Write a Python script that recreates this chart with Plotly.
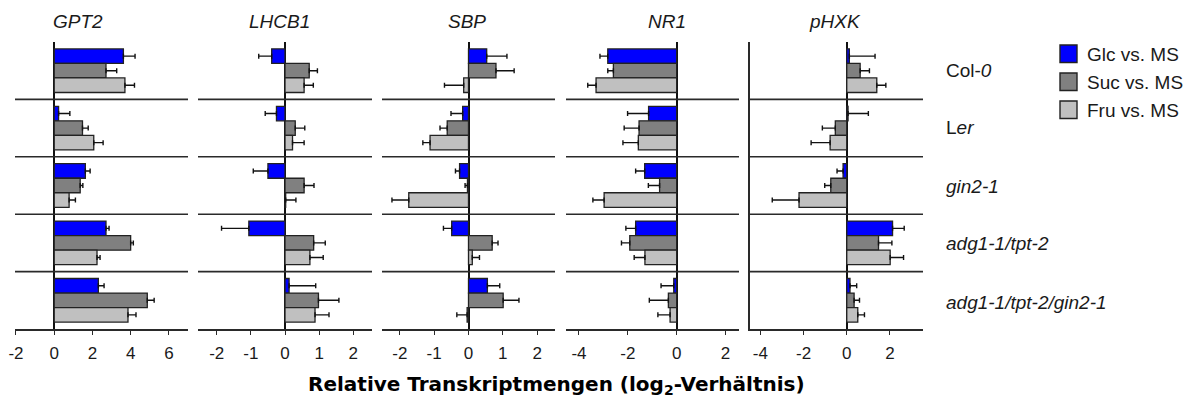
import plotly.graph_objects as go

# ---------------- data ----------------
genotypes = ["Col-0", "Ler", "gin2-1", "adg1-1/tpt-2", "adg1-1/tpt-2/gin2-1"]
genotype_labels = ["Col-<i>0</i>", "L<i>er</i>", "<i>gin2-1</i>", "<i>adg1-1/tpt-2</i>",
                   "<i>adg1-1/tpt-2/gin2-1</i>"]
genes = ["GPT2", "LHCB1", "SBP", "NR1", "pHXK"]
series_names = ["Glc vs. MS", "Suc vs. MS", "Fru vs. MS"]

GPT2_GLC = [3.62, 0.23, 1.63, 2.71, 2.31]
GPT2_SUC = [2.71, 1.48, 1.36, 4.00, 4.87]
GPT2_FRU = [3.70, 2.07, 0.78, 2.24, 3.86]
GPT2_GLC_ERR = [0.61, 0.59, 0.25, 0.16, 0.30]
GPT2_SUC_ERR = [0.56, 0.30, 0.14, 0.14, 0.36]
GPT2_FRU_ERR = [0.50, 0.49, 0.33, 0.16, 0.42]

LHCB1_GLC = [-0.39, -0.25, -0.50, -1.06, 0.12]
LHCB1_SUC = [0.71, 0.30, 0.56, 0.84, 0.98]
LHCB1_FRU = [0.56, 0.22, 0.02, 0.73, 0.88]
LHCB1_GLC_ERR = [0.38, 0.33, 0.43, 0.80, 0.78]
LHCB1_SUC_ERR = [0.24, 0.28, 0.29, 0.34, 0.60]
LHCB1_FRU_ERR = [0.27, 0.34, 0.30, 0.39, 0.41]

SBP_GLC = [0.53, -0.17, -0.26, -0.49, 0.55]
SBP_SUC = [0.80, -0.62, -0.03, 0.69, 1.01]
SBP_FRU = [-0.14, -1.12, -1.74, 0.11, -0.04]
SBP_GLC_ERR = [0.59, 0.34, 0.12, 0.24, 0.36]
SBP_SUC_ERR = [0.53, 0.21, 0.07, 0.17, 0.46]
SBP_FRU_ERR = [0.56, 0.21, 0.49, 0.21, 0.30]

NR1_GLC = [-2.82, -1.15, -1.31, -1.68, -0.12]
NR1_SUC = [-2.59, -1.54, -0.70, -1.92, -0.34]
NR1_FRU = [-3.30, -1.57, -2.97, -1.30, -0.27]
NR1_GLC_ERR = [0.32, 0.86, 0.37, 0.40, 0.52]
NR1_SUC_ERR = [0.23, 0.61, 0.46, 0.34, 0.78]
NR1_FRU_ERR = [0.34, 0.63, 0.46, 0.44, 0.50]

PHXK_GLC = [0.12, 0.06, -0.17, 2.12, 0.15]
PHXK_SUC = [0.62, -0.53, -0.74, 1.47, 0.34]
PHXK_FRU = [1.39, -0.77, -2.21, 2.01, 0.51]
PHXK_GLC_ERR = [1.19, 0.94, 0.28, 0.54, 0.31]
PHXK_SUC_ERR = [0.43, 0.60, 0.28, 0.62, 0.25]
PHXK_FRU_ERR = [0.42, 0.88, 1.24, 0.62, 0.31]

x_ranges = [[-2.05, 7.0], [-2.55, 2.55], [-2.52, 2.52], [-4.53, 2.55], [-4.48, 3.53]]
x_ticks = [[-2, 0, 2, 4, 6], [-2, -1, 0, 1, 2], [-2, -1, 0, 1, 2], [-4, -2, 0, 2], [-4, -2, 0, 2]]

values = [
    [GPT2_GLC, GPT2_SUC, GPT2_FRU],
    [LHCB1_GLC, LHCB1_SUC, LHCB1_FRU],
    [SBP_GLC, SBP_SUC, SBP_FRU],
    [NR1_GLC, NR1_SUC, NR1_FRU],
    [PHXK_GLC, PHXK_SUC, PHXK_FRU],
]
errors = [
    [GPT2_GLC_ERR, GPT2_SUC_ERR, GPT2_FRU_ERR],
    [LHCB1_GLC_ERR, LHCB1_SUC_ERR, LHCB1_FRU_ERR],
    [SBP_GLC_ERR, SBP_SUC_ERR, SBP_FRU_ERR],
    [NR1_GLC_ERR, NR1_SUC_ERR, NR1_FRU_ERR],
    [PHXK_GLC_ERR, PHXK_SUC_ERR, PHXK_FRU_ERR],
]

# ---------------- style ----------------
W, H = 1196, 401
TOP, BOTTOM = 42, 329
colors = ["#0000FE", "#808080", "#C0C0C0"]
FONT = "Liberation Sans, Arial, sans-serif"
TXT = "#1a1a1a"
LINE = "#2a2a2a"
panel_px = [(15, 188), (198, 372), (382, 555), (566, 739), (750, 923)]
title_px = [78, 279, 467, 667, 835]


def px_x(p):
    return p / W


def px_y(p):
    return (BOTTOM - p) / (BOTTOM - TOP)


fig = go.Figure()
for gi, gene in enumerate(genes):
    xa = "x" if gi == 0 else f"x{gi + 1}"
    ya = "y" if gi == 0 else f"y{gi + 1}"
    for si in range(3):
        vals = values[gi][si]
        errs = errors[gi][si]
        plus = [e if v >= 0 else 0 for v, e in zip(vals, errs)]
        minus = [e if v < 0 else 0 for v, e in zip(vals, errs)]
        fig.add_trace(go.Bar(
            x=vals, y=genotypes, orientation="h", name=series_names[si],
            xaxis=xa, yaxis=ya, showlegend=False,
            marker=dict(color=colors[si], line=dict(color="#222222", width=1.3)),
            error_x=dict(type="data", symmetric=False, array=plus, arrayminus=minus,
                         color="#111111", thickness=1.4, width=2.5),
        ))

layout = dict(
    width=W, height=H, margin=dict(l=0, r=0, t=TOP, b=H - BOTTOM),
    paper_bgcolor="white", plot_bgcolor="white",
    barmode="group", bargap=0.24, bargroupgap=0,
    font=dict(family=FONT, color=TXT),
)
for gi in range(5):
    sx = "" if gi == 0 else str(gi + 1)
    x0, x1 = panel_px[gi]
    layout[f"xaxis{sx}"] = dict(
        domain=[px_x(x0), px_x(x1)], range=x_ranges[gi], tickvals=x_ticks[gi],
        ticktext=[str(t) for t in x_ticks[gi]],
        showgrid=False, zeroline=True, zerolinecolor="#111111", zerolinewidth=1.6,
        showline=True, linecolor=LINE, linewidth=1.6,
        ticks="outside", ticklen=4, tickwidth=1.3, tickcolor=LINE,
        tickfont=dict(size=17, family=FONT, color=TXT), ticklabelstandoff=4,
        anchor="y" if gi == 0 else f"y{gi + 1}", fixedrange=True, automargin=False,
    )
    layout[f"yaxis{sx}"] = dict(
        domain=[0, 1], type="category", categoryarray=genotypes, categoryorder="array",
        range=[4.5, -0.5], showticklabels=False, showgrid=False, zeroline=False,
        showline=(gi == 4), linecolor=LINE, linewidth=1.6, ticks="",
        anchor="x" if gi == 0 else f"x{gi + 1}", fixedrange=True, automargin=False,
    )
fig.update_layout(**layout)

# separators between genotype groups
shapes = []
for gi in range(5):
    xr = "x domain" if gi == 0 else f"x{gi + 1} domain"
    yr = "y domain" if gi == 0 else f"y{gi + 1} domain"
    for k in range(1, 5):
        shapes.append(dict(type="line", xref=xr, yref=yr, x0=0, x1=1, y0=k / 5, y1=k / 5,
                           line=dict(color=LINE, width=1.6), layer="above"))

annotations = []
# gene titles
for gi, gene in enumerate(genes):
    annotations.append(dict(text=f"<i>{gene}</i>", xref="paper", yref="paper",
                            x=px_x(title_px[gi]), y=px_y(22), xanchor="center", yanchor="middle",
                            showarrow=False, font=dict(size=19, family=FONT, color=TXT)))
# genotype labels
row_px = [70, 127, 186, 243, 302]
for lab, ry in zip(genotype_labels, row_px):
    annotations.append(dict(text=lab, xref="paper", yref="paper", x=px_x(944), y=px_y(ry),
                            xanchor="left", yanchor="middle", showarrow=False,
                            font=dict(size=19, family=FONT, color=TXT)))
# legend (drawn)
leg_y = [54, 82, 110]
for si, ly in enumerate(leg_y):
    shapes.append(dict(type="rect", xref="paper", yref="paper",
                       x0=px_x(1060), x1=px_x(1077), y0=px_y(ly - 9), y1=px_y(ly + 8.5),
                       fillcolor=colors[si], line=dict(color="#222222", width=1.4)))
    annotations.append(dict(text=series_names[si], xref="paper", yref="paper",
                            x=px_x(1085), y=px_y(ly), xanchor="left", yanchor="middle",
                            showarrow=False, font=dict(size=19, family=FONT, color=TXT)))
# x-axis title
annotations.append(dict(text="<b>Relative Transkriptmengen (log<sub>2</sub>-Verhältnis)</b>",
                        xref="paper", yref="paper", x=px_x(556), y=px_y(385),
                        xanchor="center", yanchor="middle", showarrow=False,
                        font=dict(size=20, family="DejaVu Sans, sans-serif", color="#000000")))

fig.update_layout(shapes=shapes, annotations=annotations)
fig.write_html("out.html", config={"displayModeBar": False},
               post_script="document.body.style.margin='0';document.body.style.overflow='hidden';")
